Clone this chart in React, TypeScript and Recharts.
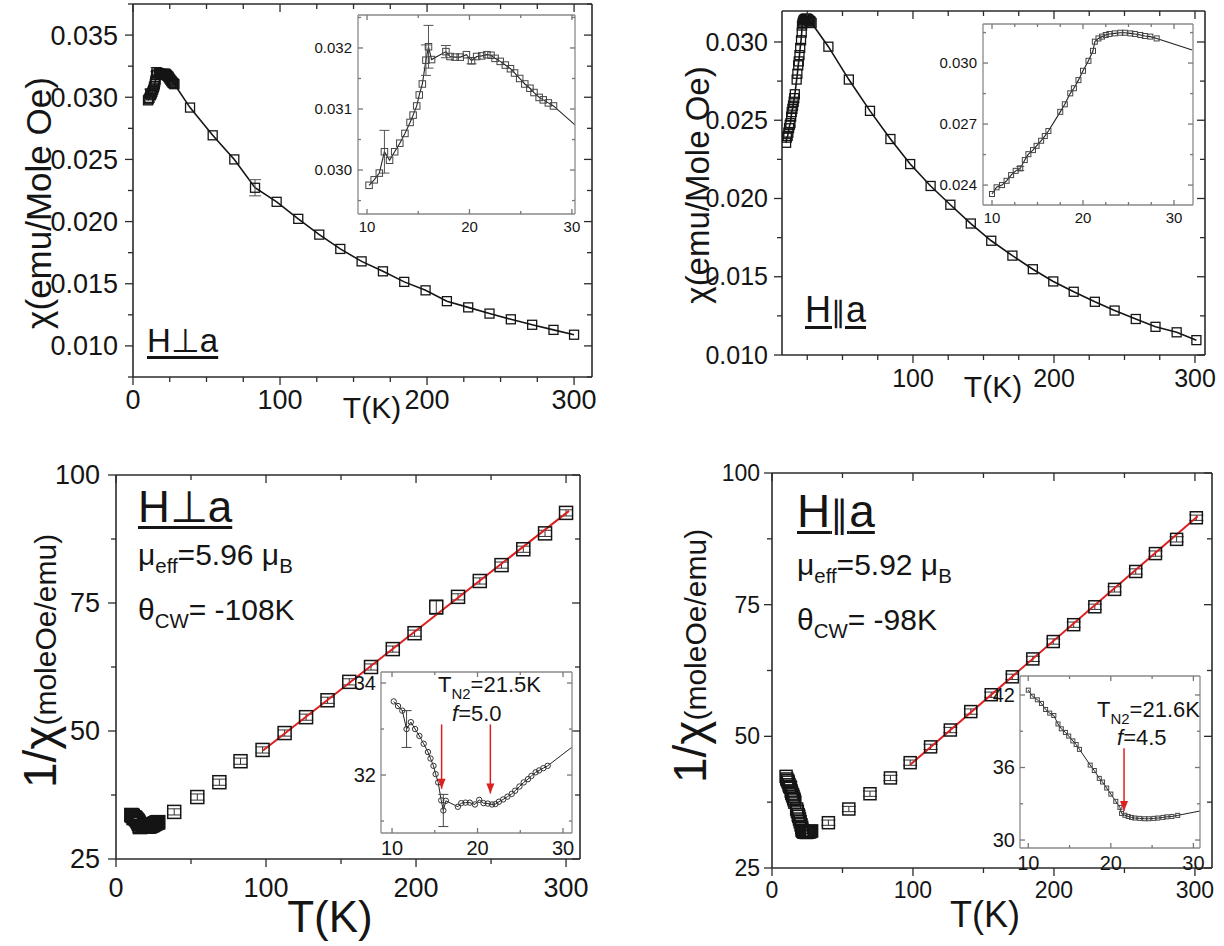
import React from "react";
import {
  ComposedChart,
  XAxis,
  YAxis,
  Scatter,
  Line,
  ErrorBar,
  CartesianGrid,
  ReferenceLine,
  ReferenceDot,
} from "recharts";

const FONT = "'Liberation Sans', Arial, Helvetica, sans-serif";
const INK = "#151515";
const RED = "#dc1f1f";

// ---------- H ⊥ a ----------
// low-temperature sweep (shared by main panels and insets)
const perpLowT = [10.2, 10.7, 11.2, 11.7, 12.2, 12.7, 13.2, 13.7, 14.2, 14.5, 14.85, 15.1, 15.4, 15.75, 16.0, 16.3, 17.7, 18.1, 18.6, 19.1, 19.7, 20.2, 20.7, 21.2, 21.7, 22.1, 22.5, 23.0, 23.5, 24.0, 24.4, 24.9, 25.4, 25.9, 26.3, 26.8, 27.2, 27.7, 28.2];
const perpLowChi = [0.02975, 0.02984, 0.02995, 0.0303, 0.03016, 0.0303, 0.03044, 0.0306, 0.03078, 0.0309, 0.03105, 0.03123, 0.03141, 0.0318, 0.03202, 0.03181, 0.03194, 0.03186, 0.03185, 0.03185, 0.03189, 0.03179, 0.03186, 0.03187, 0.03189, 0.03188, 0.03183, 0.03178, 0.03172, 0.03166, 0.03159, 0.0315, 0.03141, 0.03134, 0.03127, 0.03119, 0.03115, 0.0311, 0.03105];
const perpLowChiErr = [0, 0, 0, 0.00035, 0, 0, 0, 0, 0, 0, 0, 0, 0, 0.00025, 0.00035, 0, 0.0001, 0, 0, 0, 0, 0.00005, 0, 0, 0, 0, 0, 0, 0, 0, 0, 0, 0, 0, 0, 0, 0, 0, 0];
const perpLowInv = [33.6, 33.5, 33.4, 33.0, 33.15, 33.0, 32.85, 32.68, 32.5, 32.36, 32.2, 32.02, 31.84, 31.45, 31.23, 31.44, 31.31, 31.39, 31.4, 31.4, 31.36, 31.46, 31.39, 31.38, 31.36, 31.37, 31.42, 31.47, 31.53, 31.59, 31.66, 31.75, 31.84, 31.91, 31.98, 32.06, 32.1, 32.15, 32.2];
const perpLowInvErr = [0, 0, 0, 0.4, 0, 0, 0, 0, 0, 0, 0, 0, 0, 0, 0.35, 0, 0, 0, 0, 0, 0, 0, 0, 0, 0, 0, 0, 0, 0, 0, 0, 0, 0, 0, 0, 0, 0, 0, 0];
// continuation of the inset curves past the last point
const perpChiTailT = [30.3];
const perpChiTail = [0.03074];
const perpInvTailT = [31.0];
const perpInvTail = [32.6];

// high-temperature points
const perpHighT = [38.8, 54.2, 68.9, 83, 97.7, 112.4, 126.7, 141, 155.5, 170, 184.5, 199, 213.5, 228, 242.5, 257, 271.5, 286, 300];
const perpHighChi = [0.02917, 0.02694, 0.025, 0.02272, 0.02159, 0.02022, 0.01895, 0.0178, 0.0168, 0.016, 0.01515, 0.01447, 0.0136, 0.0131, 0.0126, 0.01214, 0.0117, 0.01129, 0.0109];
const perpHighChiErr = [0, 0, 0, 0.00065, 0, 0, 0, 0, 0, 0, 0, 0, 0, 0, 0, 0, 0, 0, 0];
const perpHighInv = [34.2, 37.1, 40.0, 44.1, 46.3, 49.6, 52.7, 56.0, 59.6, 62.5, 66.0, 69.1, 74.2, 76.2, 79.3, 82.4, 85.5, 88.6, 92.6];
const perpHighInvErr = [0.6, 0.6, 0.6, 0.6, 0.6, 0.6, 0.6, 0.6, 0.6, 0.6, 0.6, 0.6, 1.4, 0.6, 0.6, 0.6, 0.6, 0.6, 0.6];

// Curie-Weiss fit and transition markers
const perpFitT = [98, 302];
const perpFitInv = [46.2, 93.0];
const perpArrowT = [15.8, 21.5];
const perpArrowTop = [33.1, 33.1];
const perpArrowTip = [31.7, 31.6];

// ---------- H ∥ a ----------
const parLowT = [10.0, 10.5, 11.1, 11.6, 12.1, 12.6, 13.1, 13.6, 14.0, 14.5, 14.9, 15.4, 15.8, 16.2, 17.5, 18.0, 18.6, 19.0, 19.5, 20.0, 20.6, 21.1, 21.3, 21.7, 22.1, 22.5, 22.9, 23.5, 24.1, 24.6, 25.2, 25.7, 26.3, 26.8, 27.4, 28.1];
const parLowChi = [0.02356, 0.02389, 0.024, 0.02421, 0.02449, 0.0247, 0.02482, 0.02523, 0.02552, 0.02572, 0.02593, 0.02618, 0.02641, 0.02666, 0.0276, 0.02797, 0.02851, 0.02876, 0.02916, 0.02962, 0.03011, 0.0306, 0.03105, 0.03121, 0.0313, 0.03138, 0.03143, 0.03146, 0.03149, 0.03149, 0.03146, 0.03143, 0.03138, 0.03133, 0.0313, 0.03121];
const parLowChiErr = [0, 0, 0, 0, 0, 0, 0.0001, 0, 0, 0, 0, 0, 0, 0, 0, 0, 0, 0, 0, 0, 0, 0, 0, 0, 0, 0, 0, 0, 0, 0, 0, 0, 0, 0, 0, 0];
const parLowInv = [42.4, 41.9, 41.6, 41.3, 40.8, 40.5, 40.3, 39.6, 39.2, 38.9, 38.6, 38.2, 37.9, 37.5, 36.2, 35.75, 35.1, 34.8, 34.3, 33.8, 33.2, 32.7, 32.2, 32.05, 31.95, 31.87, 31.82, 31.79, 31.76, 31.76, 31.79, 31.82, 31.87, 31.92, 31.95, 32.04];
const parChiTailT = [32.0];
const parChiTail = [0.03064];
const parInvTailT = [30.8];
const parInvTail = [32.4];

const parHighT = [40, 54.5, 69.5, 84, 98, 112.5, 126.5, 141, 155.5, 170.5, 185, 199.5, 214, 229, 243, 258, 272, 287, 301];
const parHighChi = [0.0297, 0.0276, 0.0256, 0.0238, 0.0222, 0.0208, 0.0196, 0.0184, 0.0173, 0.01635, 0.01548, 0.0147, 0.01404, 0.0134, 0.01284, 0.0123, 0.0118, 0.01145, 0.01095];
const parHighInv = [33.6, 36.2, 39.1, 42.1, 45.0, 48.0, 51.2, 54.7, 57.9, 61.3, 64.7, 68.0, 71.2, 74.6, 77.9, 81.3, 84.7, 87.4, 91.5];
const parHighInvErr = [0.5, 0.5, 0.5, 0.5, 0.5, 0.5, 0.5, 0.5, 0.5, 0.5, 0.5, 0.5, 0.5, 0.5, 0.5, 0.5, 0.5, 0.5, 0.5];

const parFitT = [98, 302];
const parFitInv = [44.6, 91.8];
const parArrowT = [21.6];
const parArrowTop = [37.6];
const parArrowTip = [32.4];

// ---------- helpers ----------
type Pt = { t: number; v: number; e?: number };
const zip = (t: number[], v: number[], e?: number[]): Pt[] =>
  t.map((x, i) => ({ t: x, v: v[i], e: e ? e[i] : undefined }));

const ticks = (a: number, b: number, step: number) => {
  const out: number[] = [];
  for (let i = 0; a + i * step <= b + 1e-9; i++) out.push(+(a + i * step).toFixed(6));
  return out;
};
const isIn = (arr: number[], v: number) => arr.some((a) => Math.abs(a - v) < 1e-9);

type TickStyle = {
  labels: number[];
  fmt: (v: number) => string;
  font: number;
  off: number;
  major: number;
  minor: number;
  out: boolean;
  stroke: string;
};
type Side = "bottom" | "top" | "left" | "right";

function tickFor(side: Side, s: TickStyle) {
  return (p: any) => {
    const { x, y, payload } = p;
    const v = payload.value;
    const major = isIn(s.labels, v);
    const len = major ? s.major : s.minor;
    let line: [number, number, number, number];
    if (side === "bottom") line = [x, y, x, s.out ? y + len : y - len];
    else if (side === "left") line = [x, y, s.out ? x - len : x + len, y];
    else if (side === "top") line = [x, y, x, y + len];
    else line = [x, y, x - len, y];
    const showLabel = major && (side === "bottom" || side === "left");
    return (
      <g>
        <line x1={line[0]} y1={line[1]} x2={line[2]} y2={line[3]} stroke={s.stroke} strokeWidth={1.3} />
        {showLabel && (
          <text
            x={side === "left" ? x - s.off : x}
            y={side === "bottom" ? y + s.off : y}
            dy="0.35em"
            textAnchor={side === "left" ? "end" : "middle"}
            fontSize={s.font}
            fontFamily={FONT}
            fill={INK}
          >
            {s.fmt(v)}
          </text>
        )}
      </g>
    );
  };
}

type Frame = {
  x: number;
  y: number;
  w: number;
  h: number;
  xDomain: [number, number];
  yDomain: [number, number];
  xTicks: number[];
  yTicks: number[];
  xStyle: TickStyle;
  yStyle: TickStyle;
  frame: string;
  frameW: number;
  fill?: string;
};

const P = 110; // room around each plot box for its tick labels

function Plot({ f, children }: { f: Frame; children?: React.ReactNode }) {
  const W = f.w + 2 * P;
  const H = f.h + 2 * P;
  const axisLine = { stroke: f.frame, strokeWidth: f.frameW };
  const common = { tickSize: 0, tickMargin: 0, tickLine: false, interval: 0 as const, allowDataOverflow: true, axisLine };
  return (
    <div style={{ position: "absolute", left: f.x - P, top: f.y - P, width: W, height: H }}>
      <ComposedChart width={W} height={H} margin={{ top: 0, right: 0, bottom: 0, left: 0 }}>
        {f.fill && (
          <CartesianGrid xAxisId="b" yAxisId="l" horizontal={false} vertical={false} fill={f.fill} fillOpacity={1} />
        )}
        <XAxis xAxisId="b" orientation="bottom" type="number" dataKey="t" height={P} domain={f.xDomain} ticks={f.xTicks} tick={tickFor("bottom", f.xStyle)} {...common} />
        <XAxis xAxisId="t" orientation="top" type="number" dataKey="t" height={P} domain={f.xDomain} ticks={f.xTicks} tick={tickFor("top", f.xStyle)} {...common} />
        <YAxis yAxisId="l" orientation="left" type="number" dataKey="v" width={P} domain={f.yDomain} ticks={f.yTicks} tick={tickFor("left", f.yStyle)} {...common} />
        <YAxis yAxisId="r" orientation="right" type="number" dataKey="v" width={P} domain={f.yDomain} ticks={f.yTicks} tick={tickFor("right", f.yStyle)} {...common} />
        {children}
      </ComposedChart>
    </div>
  );
}

const square = (size: number, stroke: string, sw: number) => (p: any) =>
  <rect x={p.cx - size / 2} y={p.cy - size / 2} width={size} height={size} fill="none" stroke={stroke} strokeWidth={sw} />;
const ring = (r: number, stroke: string) => (p: any) =>
  <circle cx={p.cx} cy={p.cy} r={r} fill="none" stroke={stroke} strokeWidth={1} />;
const arrowHead = (p: any) =>
  <path d={`M${p.cx - 4},${p.cy - 10}L${p.cx + 4},${p.cy - 10}L${p.cx},${p.cy}Z`} fill={RED} />;

const tk = (o: Partial<TickStyle> & { labels: number[]; fmt: (v: number) => string }): TickStyle => ({
  font: 26,
  off: 20,
  major: 8,
  minor: 5,
  out: true,
  stroke: "#2b2b2b",
  ...o,
});
const f3 = (v: number) => v.toFixed(3);
const f0 = (v: number) => String(Math.round(v));

const inset = { frame: "#8a8a8a", frameW: 1.3, fill: "#ffffff" };
const main = { frame: "#2b2b2b", frameW: 1.6 };

// ---------- frames ----------
const tlMain: Frame = {
  x: 133, y: 4, w: 459, h: 373,
  xDomain: [0, 312.2], yDomain: [0.0075, 0.0375],
  xTicks: ticks(0, 300, 25), yTicks: ticks(0.0075, 0.0375, 0.0025),
  xStyle: tk({ labels: [0, 100, 200, 300], fmt: f0, font: 27, off: 23 }),
  yStyle: tk({ labels: [0.01, 0.015, 0.02, 0.025, 0.03, 0.035], fmt: f3, font: 27, off: 15 }),
  ...main,
};
const tlInset: Frame = {
  x: 358, y: 15, w: 217, h: 199,
  xDomain: [9.12, 30.3], yDomain: [0.02928, 0.03254],
  xTicks: ticks(10, 30, 5), yTicks: ticks(0.0295, 0.0325, 0.0005),
  xStyle: tk({ labels: [10, 20, 30], fmt: f0, font: 15, off: 13, major: 5, minor: 3, out: false, stroke: "#777" }),
  yStyle: tk({ labels: [0.03, 0.031, 0.032], fmt: f3, font: 15, off: 6, major: 5, minor: 3, out: false, stroke: "#777" }),
  ...inset,
};
const trMain: Frame = {
  x: 782, y: 11, w: 423, h: 344,
  xDomain: [7.1, 307.1], yDomain: [0.01, 0.03198],
  xTicks: ticks(25, 300, 25), yTicks: ticks(0.01, 0.03, 0.0025),
  xStyle: tk({ labels: [100, 200, 300], fmt: f0, font: 25, off: 23 }),
  yStyle: tk({ labels: [0.01, 0.015, 0.02, 0.025, 0.03], fmt: f3, font: 25, off: 14 }),
  ...main,
};
const trInset: Frame = {
  x: 983, y: 24, w: 210, h: 181,
  xDomain: [9.01, 32.09], yDomain: [0.02302, 0.03192],
  xTicks: ticks(10, 30, 2.5), yTicks: ticks(0.024, 0.0315, 0.0015),
  xStyle: tk({ labels: [10, 20, 30], fmt: f0, font: 15, off: 13, major: 5, minor: 3, out: false, stroke: "#777" }),
  yStyle: tk({ labels: [0.024, 0.027, 0.03], fmt: f3, font: 15, off: 6, major: 5, minor: 3, out: false, stroke: "#777" }),
  ...inset,
};
const blMain: Frame = {
  x: 116, y: 475, w: 464, h: 384,
  xDomain: [0, 309.3], yDomain: [25, 100],
  xTicks: ticks(0, 300, 50), yTicks: ticks(25, 100, 12.5),
  xStyle: tk({ labels: [0, 100, 200, 300], fmt: f0, font: 27, off: 29 }),
  yStyle: tk({ labels: [25, 50, 75, 100], fmt: f0, font: 27, off: 16 }),
  ...main,
};
const blInset: Frame = {
  x: 381, y: 672, w: 191, h: 161,
  xDomain: [8.71, 31.05], yDomain: [30.74, 34.24],
  xTicks: ticks(10, 30, 5), yTicks: ticks(31, 34, 1),
  xStyle: tk({ labels: [10, 20, 30], fmt: f0, font: 20, off: 15, major: 5, minor: 3, out: false, stroke: "#777" }),
  yStyle: tk({ labels: [32, 34], fmt: f0, font: 20, off: 5, major: 5, minor: 3, out: false, stroke: "#777" }),
  ...inset,
};
const brMain: Frame = {
  x: 772, y: 473, w: 440, h: 395,
  xDomain: [0, 312.1], yDomain: [25, 100],
  xTicks: ticks(0, 300, 50), yTicks: ticks(25, 100, 12.5),
  xStyle: tk({ labels: [0, 100, 200, 300], fmt: f0, font: 23, off: 22 }),
  yStyle: tk({ labels: [25, 50, 75, 100], fmt: f0, font: 23, off: 12 }),
  ...main,
};
const brInset: Frame = {
  x: 1020, y: 676, w: 180, h: 172,
  xDomain: [9.0, 30.8], yDomain: [29.34, 43.57],
  xTicks: ticks(10, 30, 5), yTicks: ticks(30, 42, 3),
  xStyle: tk({ labels: [10, 20, 30], fmt: f0, font: 20, off: 15, major: 5, minor: 3, out: false, stroke: "#777" }),
  yStyle: tk({ labels: [30, 36, 42], fmt: f0, font: 20, off: 5, major: 5, minor: 3, out: false, stroke: "#777" }),
  ...inset,
};

// ---------- series tables ----------
const perpLowChiPts = zip(perpLowT, perpLowChi, perpLowChiErr);
const perpHighChiPts = zip(perpHighT, perpHighChi, perpHighChiErr);
const perpChiCurve = [...perpLowChiPts, ...perpHighChiPts];
const perpChiInsetCurve = [...perpLowChiPts, ...zip(perpChiTailT, perpChiTail)];
const perpLowInvPts = zip(perpLowT, perpLowInv, perpLowInvErr);
const perpHighInvPts = zip(perpHighT, perpHighInv, perpHighInvErr);
const perpInvInsetCurve = [...perpLowInvPts, ...zip(perpInvTailT, perpInvTail)];
const perpFit = zip(perpFitT, perpFitInv);

const parLowChiPts = zip(parLowT, parLowChi, parLowChiErr);
const parHighChiPts = zip(parHighT, parHighChi);
const parChiCurve = [...parLowChiPts, ...parHighChiPts];
const parChiInsetCurve = [...parLowChiPts, ...zip(parChiTailT, parChiTail)];
const parLowInvPts = zip(parLowT, parLowInv);
const parHighInvPts = zip(parHighT, parHighInv, parHighInvErr);
const parInvInsetCurve = [...parLowInvPts, ...zip(parInvTailT, parInvTail)];
const parFit = zip(parFitT, parFitInv);

const ax = { xAxisId: "b", yAxisId: "l" };

// ---------- text ----------
const Sub = ({ children }: { children: React.ReactNode }) => (
  <span style={{ fontSize: "0.68em", position: "relative", top: "0.42em" }}>{children}</span>
);

function Txt({ x, y, size, children, style }: { x: number; y: number; size: number; children: React.ReactNode; style?: React.CSSProperties }) {
  return (
    <div style={{ position: "absolute", left: x, top: y - 0.85 * size, fontSize: size, lineHeight: 1, whiteSpace: "nowrap", color: INK, ...style }}>
      {children}
    </div>
  );
}

function Centered({ x, y, size, rotate, children }: { x: number; y: number; size: number; rotate?: boolean; children: React.ReactNode }) {
  return (
    <div
      style={{
        position: "absolute",
        left: x,
        top: y,
        fontSize: size,
        lineHeight: 1,
        whiteSpace: "nowrap",
        color: INK,
        transform: `translate(-50%, -50%)${rotate ? " rotate(-90deg)" : ""}`,
      }}
    >
      {children}
    </div>
  );
}

const underline: React.CSSProperties = { textDecoration: "underline", textDecorationThickness: 3, textUnderlineOffset: 4 };

export default function App() {
  return (
    <div style={{ position: "absolute", left: 0, top: 0, width: 1224, height: 946, background: "#fff", overflow: "hidden", fontFamily: FONT }}>
      {/* χ(T), H ⊥ a */}
      <Plot f={tlMain}>
        <Line {...ax} data={perpChiCurve} dataKey="v" type="linear" stroke={INK} strokeWidth={1.6} dot={false} isAnimationActive={false} />
        <Scatter {...ax} data={[...perpLowChiPts, ...perpHighChiPts]} dataKey="v" shape={square(9, INK, 1.3)} isAnimationActive={false}>
          <ErrorBar dataKey="e" direction="y" width={6} stroke="#555" strokeWidth={1} isAnimationActive={false} />
        </Scatter>
      </Plot>
      <Plot f={tlInset}>
        <Line {...ax} data={perpChiInsetCurve} dataKey="v" type="linear" stroke="#222" strokeWidth={1.1} dot={false} isAnimationActive={false} />
        <Scatter {...ax} data={perpLowChiPts} dataKey="v" shape={square(6.5, "#444", 1)} isAnimationActive={false}>
          <ErrorBar dataKey="e" direction="y" width={5} stroke="#555" strokeWidth={1} isAnimationActive={false} />
        </Scatter>
      </Plot>

      {/* χ(T), H ∥ a */}
      <Plot f={trMain}>
        <Line {...ax} data={parChiCurve} dataKey="v" type="linear" stroke={INK} strokeWidth={1.6} dot={false} isAnimationActive={false} />
        <Scatter {...ax} data={[...parLowChiPts, ...parHighChiPts]} dataKey="v" shape={square(9, INK, 1.3)} isAnimationActive={false} />
      </Plot>
      <Plot f={trInset}>
        <Line {...ax} data={parChiInsetCurve} dataKey="v" type="linear" stroke="#222" strokeWidth={1.1} dot={false} isAnimationActive={false} />
        <Scatter {...ax} data={parLowChiPts} dataKey="v" shape={square(5, "#444", 1)} isAnimationActive={false}>
          <ErrorBar dataKey="e" direction="y" width={4} stroke="#555" strokeWidth={1} isAnimationActive={false} />
        </Scatter>
      </Plot>

      {/* 1/χ(T), H ⊥ a */}
      <Plot f={blMain}>
        <Scatter {...ax} data={[...perpLowInvPts, ...perpHighInvPts]} dataKey="v" shape={square(13, INK, 1.5)} isAnimationActive={false}>
          <ErrorBar dataKey="e" direction="y" width={7} stroke="#333" strokeWidth={1} isAnimationActive={false} />
        </Scatter>
        <Line {...ax} data={perpFit} dataKey="v" type="linear" stroke={RED} strokeWidth={2} dot={false} isAnimationActive={false} />
      </Plot>
      <Plot f={blInset}>
        <Line {...ax} data={perpInvInsetCurve} dataKey="v" type="linear" stroke="#222" strokeWidth={1} dot={false} isAnimationActive={false} />
        <Scatter {...ax} data={perpLowInvPts} dataKey="v" shape={ring(2.7, "#333")} isAnimationActive={false}>
          <ErrorBar dataKey="e" direction="y" width={5} stroke="#444" strokeWidth={1} isAnimationActive={false} />
        </Scatter>
        {perpArrowT.map((t, i) => (
          <ReferenceLine key={`s${i}`} {...ax} segment={[{ x: t, y: perpArrowTop[i] }, { x: t, y: perpArrowTip[i] }]} stroke={RED} strokeWidth={1.5} />
        ))}
        {perpArrowT.map((t, i) => (
          <ReferenceDot key={`h${i}`} {...ax} x={t} y={perpArrowTip[i]} shape={arrowHead} />
        ))}
      </Plot>

      {/* 1/χ(T), H ∥ a */}
      <Plot f={brMain}>
        <Scatter {...ax} data={[...parLowInvPts, ...parHighInvPts]} dataKey="v" shape={square(12, INK, 1.5)} isAnimationActive={false}>
          <ErrorBar dataKey="e" direction="y" width={7} stroke="#333" strokeWidth={1} isAnimationActive={false} />
        </Scatter>
        <Line {...ax} data={parFit} dataKey="v" type="linear" stroke={RED} strokeWidth={2} dot={false} isAnimationActive={false} />
      </Plot>
      <Plot f={brInset}>
        <Line {...ax} data={parInvInsetCurve} dataKey="v" type="linear" stroke="#222" strokeWidth={1} dot={false} isAnimationActive={false} />
        <Scatter {...ax} data={parLowInvPts} dataKey="v" shape={square(4, "#444", 1)} isAnimationActive={false} />
        {parArrowT.map((t, i) => (
          <ReferenceLine key={`s${i}`} {...ax} segment={[{ x: t, y: parArrowTop[i] }, { x: t, y: parArrowTip[i] }]} stroke={RED} strokeWidth={1.5} />
        ))}
        {parArrowT.map((t, i) => (
          <ReferenceDot key={`h${i}`} {...ax} x={t} y={parArrowTip[i]} shape={arrowHead} />
        ))}
      </Plot>

      {/* axis titles */}
      <Centered x={38} y={203} size={35} rotate>χ(emu/Mole Oe)</Centered>
      <Centered x={697} y={185} size={33} rotate>χ(emu/Mole Oe)</Centered>
      <Centered x={40} y={661} size={46} rotate>
        1/χ<span style={{ fontSize: 30 }}>(moleOe/emu)</span>
      </Centered>
      <Centered x={690} y={656} size={46} rotate>
        1/χ<span style={{ fontSize: 30 }}>(moleOe/emu)</span>
      </Centered>
      <Centered x={372} y={408} size={30}>T(K)</Centered>
      <Centered x={993} y={387} size={30}>T(K)</Centered>
      <Centered x={330} y={917} size={44}>T(K)</Centered>
      <Centered x={985} y={915} size={36}>T(K)</Centered>

      {/* field orientation labels */}
      <Txt x={147} y={352} size={33} style={underline}>H⊥a</Txt>
      <Txt x={805} y={323} size={36} style={underline}>H<span style={{ fontSize: "0.8em" }}>∥</span>a</Txt>
      <Txt x={138} y={522} size={44} style={underline}>H⊥a</Txt>
      <Txt x={797} y={527} size={46} style={underline}>H<span style={{ fontSize: "0.8em" }}>∥</span>a</Txt>

      {/* Curie-Weiss parameters */}
      <Txt x={138} y={565} size={30}>μ<Sub>eff</Sub>=5.96 μ<Sub>B</Sub></Txt>
      <Txt x={138} y={620} size={30}>θ<Sub>CW</Sub>= -108K</Txt>
      <Txt x={797} y={575} size={30}>μ<Sub>eff</Sub>=5.92 μ<Sub>B</Sub></Txt>
      <Txt x={797} y={630} size={30}>θ<Sub>CW</Sub>= -98K</Txt>

      {/* transition annotations */}
      <Txt x={438} y={693} size={22}>T<Sub>N2</Sub>=21.5K</Txt>
      <Txt x={452} y={722} size={22}><i>f</i>=5.0</Txt>
      <Txt x={1097} y={718} size={22}>T<Sub>N2</Sub>=21.6K</Txt>
      <Txt x={1117} y={746} size={22}><i>f</i>=4.5</Txt>
    </div>
  );
}
